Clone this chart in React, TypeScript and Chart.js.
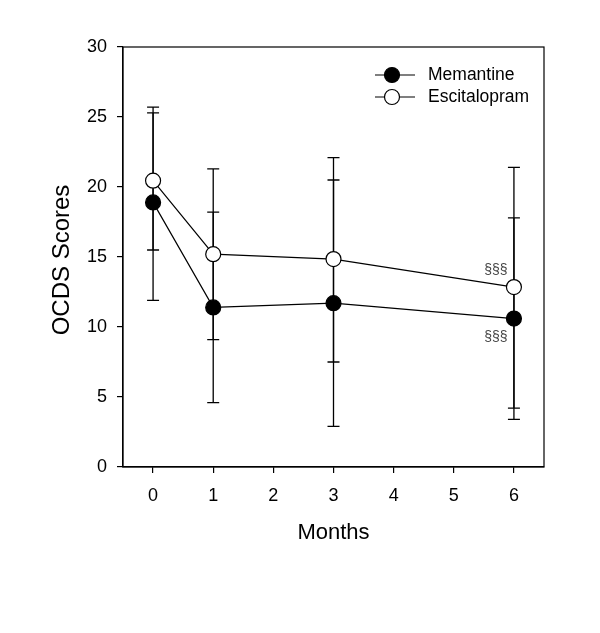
import React, { useEffect, useRef } from "react";
import { Chart, registerables } from "chart.js";

Chart.register(...registerables);

const months = [0, 1, 3, 6];
const memantineMean = [18.9, 11.4, 11.7, 10.6];
const memantineLow = [11.9, 4.6, 2.9, 3.4];
const memantineHigh = [25.7, 18.2, 20.5, 17.8];
const escitalopramMean = [20.45, 15.2, 14.85, 12.85];
const escitalopramLow = [15.5, 9.1, 7.5, 4.2];
const escitalopramHigh = [25.3, 21.3, 22.1, 21.4];
const xTickValues = [0, 1, 2, 3, 4, 5, 6];
const yTickValues = [0, 5, 10, 15, 20, 25, 30];
const seriesNames = ["Memantine", "Escitalopram"];
const xTitle = "Months";
const yTitle = "OCDS Scores";
const markText = "§§§";

const FONT = "'Liberation Sans', Arial, sans-serif";

export default function App() {
  const ref = useRef<HTMLCanvasElement | null>(null);

  useEffect(() => {
    const canvas = ref.current;
    if (!canvas) return;

    const errorBars = {
      id: "errorBars",
      beforeDatasetsDraw(chart: any) {
        const ctx = chart.ctx;
        const xs = chart.scales.x;
        const ys = chart.scales.y;
        const sets = [
          [memantineLow, memantineHigh],
          [escitalopramLow, escitalopramHigh],
        ];
        ctx.save();
        ctx.strokeStyle = "#000";
        ctx.lineWidth = 1.3;
        sets.forEach(([lo, hi]) => {
          months.forEach((m, i) => {
            const px = xs.getPixelForValue(m);
            const y1 = ys.getPixelForValue(lo[i]);
            const y2 = ys.getPixelForValue(hi[i]);
            ctx.beginPath();
            ctx.moveTo(px, y1);
            ctx.lineTo(px, y2);
            ctx.moveTo(px - 6, y1);
            ctx.lineTo(px + 6, y1);
            ctx.moveTo(px - 6, y2);
            ctx.lineTo(px + 6, y2);
            ctx.stroke();
          });
        });
        ctx.restore();
      },
      afterDraw(chart: any) {
        const ctx = chart.ctx;
        const a = chart.chartArea;
        const xs = chart.scales.x;
        const ys = chart.scales.y;
        ctx.save();
        // frame
        ctx.strokeStyle = "#000";
        ctx.lineWidth = 1.2;
        ctx.strokeRect(a.left, a.top, a.right - a.left, a.bottom - a.top);
        // titles
        ctx.fillStyle = "#000";
        ctx.font = `22px ${FONT}`;
        ctx.textAlign = "center";
        ctx.textBaseline = "middle";
        ctx.fillText(xTitle, (a.left + a.right) / 2, 533);
        ctx.save();
        ctx.font = `24px ${FONT}`;
        ctx.translate(62, 260);
        ctx.rotate(-Math.PI / 2);
        ctx.fillText(yTitle, 0, 0);
        ctx.restore();
        // annotations
        ctx.font = `14px ${FONT}`;
        ctx.fillStyle = "#444";
        const last = months.length - 1;
        const px = xs.getPixelForValue(months[last]);
        ctx.fillText(markText, px - 18, ys.getPixelForValue(escitalopramMean[last]) - 17);
        ctx.fillText(markText, px - 18, ys.getPixelForValue(memantineMean[last]) + 19);
        // legend
        const items = [
          { label: seriesNames[0], fill: "#000", y: 75 },
          { label: seriesNames[1], fill: "#fff", y: 97 },
        ];
        items.forEach((it) => {
          ctx.strokeStyle = "#000";
          ctx.lineWidth = 1.2;
          ctx.beginPath();
          ctx.moveTo(375, it.y);
          ctx.lineTo(415, it.y);
          ctx.stroke();
          ctx.beginPath();
          ctx.arc(392, it.y, 7.5, 0, Math.PI * 2);
          ctx.fillStyle = it.fill;
          ctx.fill();
          ctx.stroke();
          ctx.fillStyle = "#000";
          ctx.font = `17.5px ${FONT}`;
          ctx.textAlign = "left";
          ctx.textBaseline = "middle";
          ctx.fillText(it.label, 428, it.y);
        });
        ctx.restore();
      },
    };

    const chart = new Chart(canvas, {
      type: "line",
      data: {
        datasets: [
          {
            label: seriesNames[0],
            data: months.map((m, i) => ({ x: m, y: memantineMean[i] })),
            borderColor: "#000",
            borderWidth: 1.2,
            backgroundColor: "#000",
            pointBackgroundColor: "#000",
            pointBorderColor: "#000",
            pointRadius: 7.5,
            pointBorderWidth: 1.2,
          },
          {
            label: seriesNames[1],
            data: months.map((m, i) => ({ x: m, y: escitalopramMean[i] })),
            borderColor: "#000",
            borderWidth: 1.2,
            backgroundColor: "#fff",
            pointBackgroundColor: "#fff",
            pointBorderColor: "#000",
            pointRadius: 7.5,
            pointBorderWidth: 1.2,
          },
        ],
      },
      options: {
        responsive: false,
        animation: false,
        devicePixelRatio: 1,
        layout: { padding: { top: 47, right: 56, left: 0, bottom: 0 } },
        plugins: {
          legend: { display: false },
          tooltip: { enabled: false },
        },
        scales: {
          x: {
            type: "linear",
            min: -0.5,
            max: 6.5,
            afterBuildTicks: (s: any) => {
              s.ticks = xTickValues.map((v) => ({ value: v }));
            },
            afterFit: (s: any) => {
              s.height = 166;
            },
            grid: {
              display: true,
              drawOnChartArea: false,
              drawTicks: true,
              tickLength: 6,
              lineWidth: 1.2,
              color: "#000",
            },
            border: { display: true, color: "#000", width: 1.2 },
            ticks: {
              color: "#000",
              font: { family: FONT, size: 18 },
              padding: 12,
              maxRotation: 0,
            },
          },
          y: {
            type: "linear",
            min: 0,
            max: 30,
            afterBuildTicks: (s: any) => {
              s.ticks = yTickValues.map((v) => ({ value: v }));
            },
            afterFit: (s: any) => {
              s.width = 123;
            },
            grid: {
              display: true,
              drawOnChartArea: false,
              drawTicks: true,
              tickLength: 6,
              lineWidth: 1.2,
              color: "#000",
            },
            border: { display: true, color: "#000", width: 1.2 },
            ticks: {
              color: "#000",
              font: { family: FONT, size: 18 },
              padding: 10,
            },
          },
        },
      },
      plugins: [errorBars],
    } as any);

    return () => chart.destroy();
  }, []);

  return (
    <div style={{ position: "fixed", left: 0, top: 0, width: 600, height: 633, background: "#fff" }}>
      <canvas ref={ref} width={600} height={633} style={{ display: "block" }} />
    </div>
  );
}
